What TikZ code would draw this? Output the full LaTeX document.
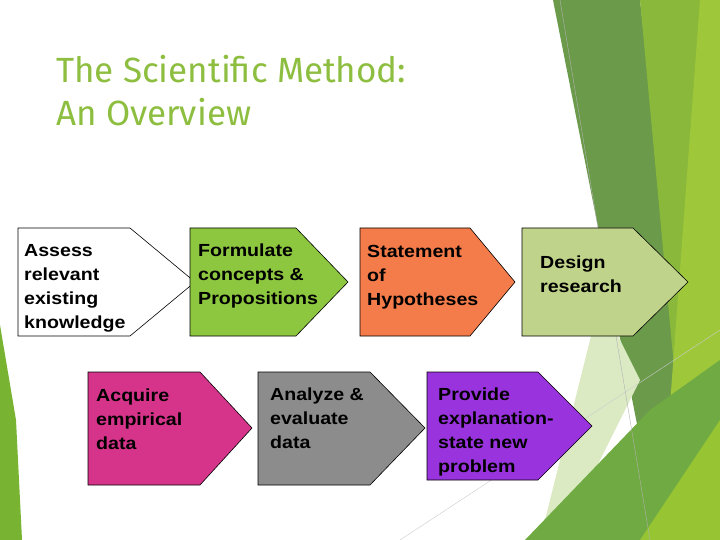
\documentclass[tikz,border=0pt]{standalone}
\usepackage{fontspec}
\setmainfont{Liberation Sans}
\newfontfamily\titlefont{Fira Sans}
\newfontfamily\boxfont[FakeStretch=1.12]{Liberation Sans}
\begin{document}
\begin{tikzpicture}[x=1pt,y=-1pt,
  box/.style={draw=black,line width=0.6pt},
  lbl/.style={anchor=north west,align=left,font=\boxfont\bfseries\fontsize{17.5}{24}\selectfont,inner sep=0pt}]
\useasboundingbox (0,0) rectangle (720,540);
\fill[white] (0,0) rectangle (720,540);
% background decoration
\fill[color={rgb,255:red,120;green,180;blue,50}] (0,325) -- (16,420) -- (22,540) -- (0,540) -- cycle;
\fill[color={rgb,255:red,106;green,154;blue,74}] (553,0) -- (640,0) -- (700,540) -- (660,540) -- cycle;
\fill[color={rgb,255:red,138;green,184;blue,58}] (640,0) -- (720,0) -- (720,540) -- (690,540) -- cycle;
\fill[color={rgb,255:red,158;green,200;blue,58}] (700,0) -- (720,0) -- (720,540) -- (660,540) -- cycle;
\fill[color={rgb,255:red,220;green,234;blue,196}] (600,300) -- (640,380) -- (560,540) -- (540,540) -- cycle;
\fill[color={rgb,255:red,112;green,170;blue,66}] (720,360) -- (720,540) -- (525,540) -- (650,410) -- cycle;
\fill[color={rgb,255:red,150;green,196;blue,50}] (720,420) -- (720,540) -- (640,540) -- cycle;
\draw[gray!60,line width=0.4pt] (560,0) -- (650,540);
\draw[gray!40,line width=0.4pt] (400,540) -- (720,330);
% title
\node[anchor=north west,align=left,inner sep=0pt,text={rgb,255:red,141;green,190;blue,63},font=\titlefont\fontsize{35}{43}\selectfont] (title) at (56,55) {The Scientific Method:\\An Overview};
% boxes
\path[box,fill=white] (18,228) -- (130,228) -- (195,282) -- (130,336) -- (18,336) -- cycle;
\node[lbl] (a) at (24,244) {Assess\\relevant\\existing\\knowledge};
\path[box,fill={rgb,255:red,141;green,198;blue,63}] (190,228) -- (296,228) -- (348,282) -- (296,336) -- (190,336) -- cycle;
\node[lbl] (b) at (198,244) {Formulate\\concepts \&\\Propositions};
\path[box,fill={rgb,255:red,244;green,123;blue,74}] (360,228) -- (470,228) -- (515,282) -- (470,336) -- (360,336) -- cycle;
\node[lbl] (c) at (367,245) {Statement\\of\\Hypotheses};
\path[box,fill={rgb,255:red,192;green,211;blue,138}] (522,228) -- (633,228) -- (688,282) -- (633,336) -- (522,336) -- cycle;
\node[lbl] (d) at (540,256) {Design\\research};
\path[box,fill={rgb,255:red,214;green,51;blue,138}] (88,372) -- (200,372) -- (252,428) -- (200,485) -- (88,485) -- cycle;
\node[lbl] (e) at (96,389) {Acquire\\empirical\\data};
\path[box,fill={rgb,255:red,140;green,140;blue,140}] (258,372) -- (370,372) -- (425,428) -- (370,485) -- (258,485) -- cycle;
\node[lbl] (f) at (270,388) {Analyze \&\\evaluate\\data};
\path[box,fill={rgb,255:red,153;green,51;blue,221}] (427,372) -- (538,372) -- (592,426) -- (538,480) -- (427,480) -- cycle;
\node[lbl] (g) at (438,388) {Provide\\explanation-\\state new\\problem};
\end{tikzpicture}
\end{document}
